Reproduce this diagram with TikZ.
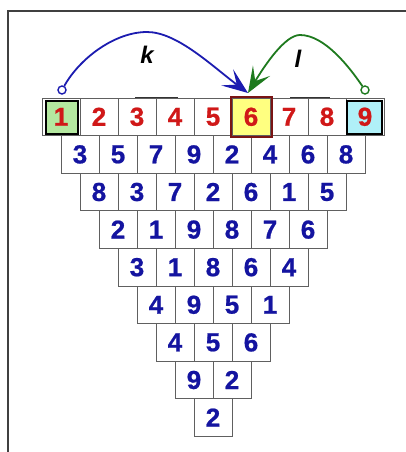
\documentclass[tikz,border=0pt]{standalone}
\usepackage{fontspec}
\setmainfont{Liberation Sans}
\newfontfamily\digitfont[FakeBold=0.8]{Liberation Sans Bold}
\usetikzlibrary{arrows.meta}
\definecolor{numred}{HTML}{D01818}
\definecolor{numblue}{HTML}{1414A0}
\definecolor{arcblue}{HTML}{1C1CB0}
\definecolor{arcgreen}{HTML}{1E7A1E}
\definecolor{cellline}{HTML}{606060}
\definecolor{hlgreen}{HTML}{B4E8A0}
\definecolor{hlcyan}{HTML}{B0F0F8}
\definecolor{hlyellow}{HTML}{FFFF80}
\definecolor{hlmaroon}{HTML}{7A1414}
\tikzset{
  cellbox/.style={draw=cellline, line width=0.8pt, minimum width=38pt, minimum height=37.6pt,
    inner sep=0pt, font=\fontsize{26}{26}\selectfont\digitfont},
  rednum/.style={text=numred},
  bluenum/.style={text=numblue},
  hlbox/.style={line width=2.6pt},
  arcarrow/.style={line width=1.8pt, -{Stealth[length=26pt,width=20pt,inset=12pt]}},
  ring/.style={circle, draw, line width=1.4pt, fill=white, minimum size=8pt, inner sep=0pt},
  arclabel/.style={font=\fontsize{24}{24}\selectfont\bfseries\itshape, text=black}
}
\begin{document}
\begin{tikzpicture}[x=1pt,y=-1pt]
\useasboundingbox (0,0) rectangle (406,452);
\fill[white] (0,0) rectangle (406,452);
% outer frame (only top and left visible)
\draw[line width=1.2pt, black!75] (8,452) -- (8,11) -- (406,11);
% highlight backgrounds in row 1
\fill[hlgreen] (46,101) rectangle (78,134);
\fill[hlcyan] (347,101) rectangle (382,134);
\fill[hlyellow] (231,97) rectangle (272,137);
% rows
\foreach \r/\nums/\sty in {
  0/{1,2,3,4,5,6,7,8,9}/rednum,
  1/{3,5,7,9,2,4,6,8}/bluenum,
  2/{8,3,7,2,6,1,5}/bluenum,
  3/{2,1,9,8,7,6}/bluenum,
  4/{3,1,8,6,4}/bluenum,
  5/{4,9,5,1}/bluenum,
  6/{4,5,6}/bluenum,
  7/{9,2}/bluenum,
  8/{2}/bluenum}{
  \foreach \v [count=\c from 0] in \nums {
    \node[cellbox, \sty] (n-\r-\c) at ({42+19*\r+38*\c+19},{98+37.6*\r+18.8}) {\v};
  }
}
% highlight borders
\draw[hlbox, black] (46,101) rectangle (78,134);
\draw[hlbox, black] (347,101) rectangle (382,134);
\draw[hlbox, hlmaroon] (231,97) rectangle (272,137);
% small dark marks above row 1
\draw[line width=1.6pt, black!80] (135,97.5) -- (178,97.5);
\draw[line width=1.6pt, black!80] (290,97.5) -- (330,97.5);
% arcs
\coordinate (tip) at (248,93);
\coordinate (kpeak) at (147,32);
\coordinate (lpeak) at (300,35);
\node[ring, draw=arcblue] (kstart) at (62,90) {};
\node[ring, draw=arcgreen] (lstart) at (365,90) {};
\draw[arcarrow, arcblue] (kstart) .. controls (80,58) and (115,32) .. (kpeak)
  .. controls (177,32) and (212,66) .. (tip);
\draw[arcarrow, arcgreen] (lstart) .. controls (350,68) and (325,35) .. (lpeak)
  .. controls (285,35) and (265,65) .. (tip);
\node[arclabel] (klab) at (147,55) {k};
\node[arclabel] (llab) at (298,59) {l};
\end{tikzpicture}
\end{document}
